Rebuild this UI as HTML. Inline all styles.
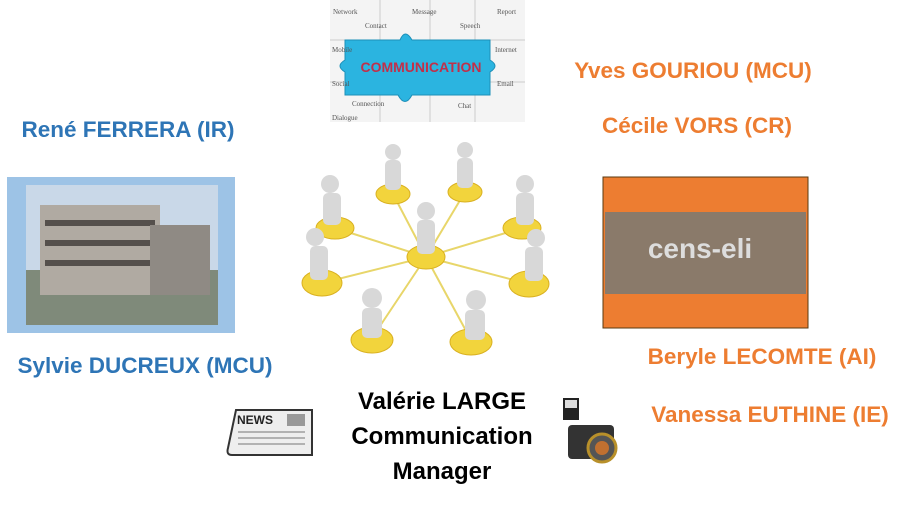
<!DOCTYPE html>
<html><head><style>
body{margin:0;width:898px;height:507px;background:#fff;position:relative;overflow:hidden;font-family:"Liberation Sans",sans-serif;font-weight:bold}
.t{position:absolute;font-size:22.5px;white-space:nowrap;transform:translateX(-50%)}
.o{color:#ed7d31}.b{color:#2e75b6}
</style></head><body>
<svg width="898" height="507" style="position:absolute;left:0;top:0">
<rect x="330" y="0" width="195" height="122" fill="#f4f4f4"/>
<g stroke="#ccc" fill="none"><path d="M330 40H525M330 82H525M380 0V122M430 0V122M475 0V122"/></g>
<path d="M345 40H400Q405 28 412 40H490V60Q500 66 490 72V95H412Q405 108 398 95H345V72Q335 66 345 60Z" fill="#2bb4e0" stroke="#1c8fb8"/>
<text x="421" y="72" font-size="14" fill="#c0304a" text-anchor="middle" font-family="Liberation Sans" font-weight="bold">COMMUNICATION</text>
<g font-size="7" fill="#555" font-family="Liberation Serif" font-weight="normal">
<text x="333" y="14">Network</text><text x="365" y="28">Contact</text><text x="412" y="14">Message</text><text x="460" y="28">Speech</text><text x="497" y="14">Report</text>
<text x="332" y="52">Mobile</text><text x="495" y="52">Internet</text><text x="332" y="86">Social</text><text x="497" y="86">Email</text>
<text x="352" y="106">Connection</text><text x="458" y="108">Chat</text><text x="332" y="120">Dialogue</text>
</g>
<rect x="7" y="177" width="228" height="156" fill="#9dc3e6"/>
<rect x="26" y="185" width="192" height="140" fill="#c9d8e8"/>
<rect x="26" y="270" width="192" height="55" fill="#7f8a7a"/>
<rect x="40" y="205" width="120" height="90" fill="#b0aaa2"/>
<g fill="#55504c"><rect x="45" y="220" width="110" height="6"/><rect x="45" y="240" width="110" height="6"/><rect x="45" y="260" width="110" height="6"/></g>
<rect x="150" y="225" width="60" height="70" fill="#8f8a84"/>
<rect x="603" y="177" width="205" height="151" fill="#ed7d31" stroke="#5a3a10"/>
<rect x="605" y="212" width="201" height="82" fill="#8a7a6a"/>
<text x="700" y="258" font-size="28" fill="#ddd" text-anchor="middle" font-family="Liberation Sans" font-weight="bold">cens-eli</text>
<g stroke="#e8d66a" stroke-width="2">
<line x1="426" y1="257" x2="393" y2="194"/><line x1="426" y1="257" x2="465" y2="192"/><line x1="426" y1="257" x2="335" y2="228"/><line x1="426" y1="257" x2="522" y2="228"/><line x1="426" y1="257" x2="322" y2="283"/><line x1="426" y1="257" x2="529" y2="284"/><line x1="426" y1="257" x2="372" y2="338"/><line x1="426" y1="257" x2="471" y2="340"/>
</g>
<g fill="#f2d43c" stroke="#d9b020">
<ellipse cx="426" cy="257" rx="19" ry="12"/><ellipse cx="393" cy="194" rx="17" ry="10"/><ellipse cx="465" cy="192" rx="17" ry="10"/><ellipse cx="335" cy="228" rx="19" ry="11"/><ellipse cx="522" cy="228" rx="19" ry="11"/><ellipse cx="322" cy="283" rx="20" ry="13"/><ellipse cx="529" cy="284" rx="20" ry="13"/><ellipse cx="372" cy="340" rx="21" ry="13"/><ellipse cx="471" cy="342" rx="21" ry="13"/>
</g>
<g fill="#d8d8d8">
<g transform="translate(426,257)"><circle cx="0" cy="-46" r="9"/><rect x="-9" y="-37" width="18" height="34" rx="5"/></g>
<g transform="translate(393,194)"><circle cx="0" cy="-42" r="8"/><rect x="-8" y="-34" width="16" height="30" rx="5"/></g>
<g transform="translate(465,192)"><circle cx="0" cy="-42" r="8"/><rect x="-8" y="-34" width="16" height="30" rx="5"/></g>
<g transform="translate(335,228)"><circle cx="-5" cy="-44" r="9"/><rect x="-12" y="-35" width="18" height="32" rx="5"/></g>
<g transform="translate(522,228)"><circle cx="3" cy="-44" r="9"/><rect x="-6" y="-35" width="18" height="32" rx="5"/></g>
<g transform="translate(322,283)"><circle cx="-7" cy="-46" r="9"/><rect x="-12" y="-37" width="18" height="34" rx="5"/></g>
<g transform="translate(529,284)"><circle cx="7" cy="-46" r="9"/><rect x="-4" y="-37" width="18" height="34" rx="5"/></g>
<g transform="translate(372,340)"><circle cx="0" cy="-42" r="10"/><rect x="-10" y="-32" width="20" height="30" rx="5"/></g>
<g transform="translate(471,342)"><circle cx="5" cy="-42" r="10"/><rect x="-6" y="-32" width="20" height="30" rx="5"/></g>
</g>
<path d="M236 410H312V455H232Q226 455 228 448Z" fill="#eee" stroke="#333" stroke-width="2"/>
<text x="237" y="424" font-size="12" fill="#222" font-family="Liberation Sans" font-weight="bold">NEWS</text>
<g stroke="#777"><line x1="238" y1="432" x2="305" y2="432"/><line x1="238" y1="438" x2="305" y2="438"/><line x1="238" y1="444" x2="305" y2="444"/></g>
<rect x="287" y="414" width="18" height="12" fill="#999"/>
<rect x="563" y="398" width="16" height="22" fill="#222"/>
<rect x="565" y="400" width="12" height="8" fill="#ddd"/>
<rect x="568" y="425" width="46" height="34" rx="4" fill="#333"/>
<circle cx="602" cy="448" r="14" fill="#555" stroke="#b8902a" stroke-width="3"/>
<circle cx="602" cy="448" r="7" fill="#c07030"/>
</svg>
<div class="t o" style="left:693px;top:58px">Yves GOURIOU (MCU)</div>
<div class="t o" style="left:697px;top:113px">Cécile VORS (CR)</div>
<div class="t b" style="left:128px;top:117px">René FERRERA (IR)</div>
<div class="t b" style="left:145px;top:353px">Sylvie DUCREUX (MCU)</div>
<div class="t o" style="left:762px;top:344px">Beryle LECOMTE (AI)</div>
<div class="t o" style="left:770px;top:402px">Vanessa EUTHINE (IE)</div>
<div class="t" style="left:442px;top:384px;font-size:24px;line-height:35px;text-align:center;color:#000">Valérie LARGE<br>Communication<br>Manager</div>
</body></html>
